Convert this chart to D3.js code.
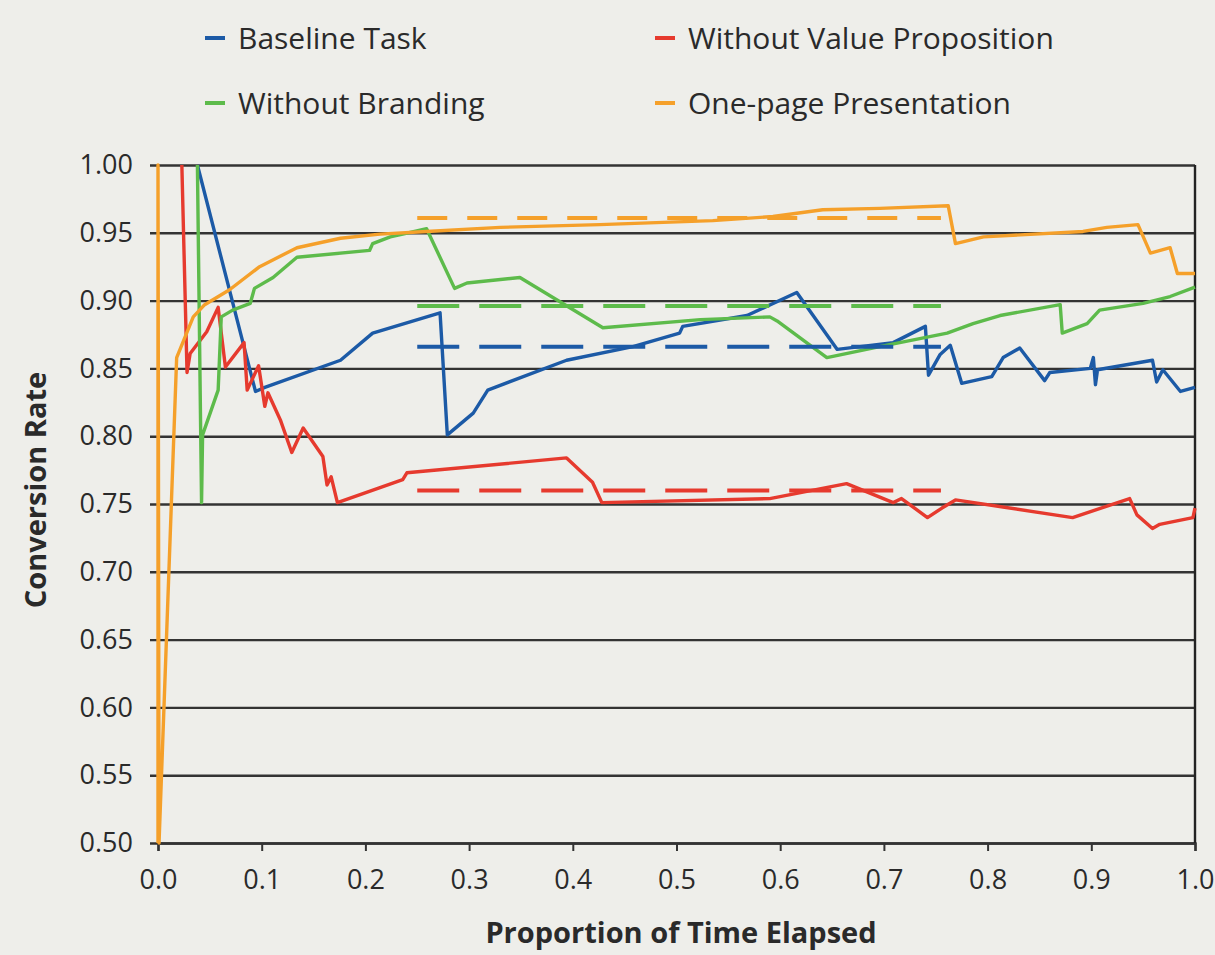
<!DOCTYPE html>
<html><head><meta charset="utf-8">
<script src="https://cdn.jsdelivr.net/npm/d3@7"></script>
<style>body{margin:0;background:#eeeeea;} svg{display:block}</style>
</head><body><svg id="c" width="1215" height="955"></svg>
<script>
// ---- data ----
const seriesNames = ["Baseline Task", "Without Value Proposition", "Without Branding", "One-page Presentation"];
const seriesColors = ["#1c5aa6", "#e63a2e", "#5dbb4b", "#f5a02a"];

const baselineTask = [[0.038,1.0],[0.094,0.833],[0.103,0.836],[0.176,0.856],[0.207,0.876],[0.272,0.891],[0.279,0.801],[0.304,0.817],[0.318,0.834],[0.394,0.856],[0.458,0.866],[0.503,0.876],[0.506,0.881],[0.568,0.889],[0.616,0.906],[0.655,0.864],[0.709,0.869],[0.740,0.881],[0.743,0.845],[0.754,0.860],[0.764,0.867],[0.775,0.839],[0.804,0.844],[0.815,0.858],[0.831,0.865],[0.855,0.841],[0.860,0.847],[0.899,0.850],[0.902,0.858],[0.904,0.838],[0.906,0.849],[0.959,0.856],[0.963,0.840],[0.969,0.849],[0.986,0.833],[1.0,0.836]];

const withoutValueProp = [[0.023,1.0],[0.028,0.847],[0.031,0.861],[0.047,0.877],[0.058,0.895],[0.065,0.851],[0.083,0.869],[0.086,0.834],[0.097,0.852],[0.103,0.822],[0.106,0.832],[0.118,0.812],[0.129,0.788],[0.140,0.806],[0.159,0.785],[0.163,0.764],[0.167,0.770],[0.173,0.751],[0.236,0.768],[0.240,0.773],[0.394,0.784],[0.419,0.766],[0.428,0.751],[0.590,0.754],[0.664,0.765],[0.709,0.751],[0.717,0.754],[0.742,0.740],[0.756,0.747],[0.769,0.753],[0.882,0.740],[0.937,0.754],[0.944,0.742],[0.959,0.732],[0.966,0.735],[0.998,0.740],[1.0,0.747]];

const withoutBranding = [[0.038,1.0],[0.042,0.751],[0.043,0.801],[0.058,0.834],[0.061,0.888],[0.072,0.893],[0.089,0.898],[0.093,0.909],[0.111,0.917],[0.134,0.932],[0.204,0.937],[0.207,0.942],[0.224,0.947],[0.259,0.953],[0.286,0.909],[0.298,0.913],[0.349,0.917],[0.429,0.880],[0.523,0.886],[0.590,0.888],[0.597,0.885],[0.645,0.858],[0.696,0.866],[0.761,0.876],[0.786,0.883],[0.812,0.889],[0.870,0.897],[0.872,0.876],[0.896,0.883],[0.908,0.893],[0.950,0.898],[0.976,0.903],[1.0,0.910]];

const onePage = [[0.0,0.5],[0.0,1.0],[0.001,0.5],[0.018,0.858],[0.034,0.888],[0.045,0.897],[0.069,0.908],[0.098,0.925],[0.134,0.939],[0.176,0.946],[0.214,0.949],[0.259,0.951],[0.330,0.954],[0.426,0.956],[0.535,0.959],[0.593,0.962],[0.641,0.967],[0.696,0.968],[0.762,0.970],[0.769,0.942],[0.796,0.947],[0.892,0.951],[0.915,0.954],[0.945,0.956],[0.957,0.935],[0.976,0.939],[0.983,0.920],[1.0,0.920]];

const seriesData = [baselineTask, withoutValueProp, withoutBranding, onePage];
const meanValues = [0.866, 0.760, 0.896, 0.961];
const meanRange = [0.25, 0.755];

const xTicks = [0,0.1,0.2,0.3,0.4,0.5,0.6,0.7,0.8,0.9,1.0];
const yTicks = [0.50,0.55,0.60,0.65,0.70,0.75,0.80,0.85,0.90,0.95,1.00];

// ---- layout ----
const svg = d3.select("#c");
const L = 158, R = 1195, T = 165, B = 843;
const x = d3.scaleLinear().domain([0,1]).range([L,R]);
const y = d3.scaleLinear().domain([0.5,1]).range([B,T]);
const font = "'Open Sans', 'Noto Sans', sans-serif";
const ink = "#2a2a2a";

svg.append("rect").attr("width",1215).attr("height",955).attr("fill","#eeeeea");

// gridlines with left ticks
const yAxis = d3.axisLeft(y).tickValues(yTicks).tickFormat(d3.format(".2f")).tickSize(-(R-L)).tickPadding(25);
const gy = svg.append("g").attr("transform",`translate(${L},0)`).call(yAxis);
gy.select(".domain").remove();
gy.selectAll(".tick line").attr("stroke","#333").attr("stroke-width",2.4).attr("x1",-8);
gy.selectAll(".tick text").attr("font-family",font).attr("font-size",27).attr("fill",ink);

// x axis
const xAxis = d3.axisBottom(x).tickValues(xTicks).tickFormat(d3.format(".1f")).tickSize(8).tickPadding(19);
const gx = svg.append("g").attr("transform",`translate(0,${B})`).call(xAxis);
gx.select(".domain").attr("stroke","#333").attr("stroke-width",2.4);
gx.selectAll(".tick line").attr("stroke","#333").attr("stroke-width",2);
gx.selectAll(".tick text").attr("font-family",font).attr("font-size",27).attr("fill",ink);

// frame left & right
svg.append("line").attr("x1",L).attr("x2",L).attr("y1",T).attr("y2",B).attr("stroke","#555").attr("stroke-width",2);
svg.append("line").attr("x1",R).attr("x2",R).attr("y1",T).attr("y2",B).attr("stroke","#222").attr("stroke-width",2.4);

// series lines
const line = d3.line().x(d=>x(d[0])).y(d=>y(d[1]));
seriesData.forEach((s,i)=>{
  svg.append("path").datum(s).attr("d",line).attr("fill","none")
    .attr("stroke",seriesColors[i]).attr("stroke-width",3.4).attr("stroke-linejoin","round");
});

// mean dashed lines
meanValues.forEach((m,i)=>{
  svg.append("line").attr("x1",x(meanRange[0])).attr("x2",x(meanRange[1]))
    .attr("y1",y(m)).attr("y2",y(m)).attr("stroke",seriesColors[i]).attr("stroke-width",4)
    .attr("stroke-dasharray", i===3 ? "30,20" : "42,20");
});

// legend
const legPos = [[205,38],[655,38],[205,103],[655,103]];
seriesNames.forEach((n,i)=>{
  const [lx,ly] = legPos[i];
  svg.append("line").attr("x1",lx).attr("x2",lx+20).attr("y1",ly).attr("y2",ly)
    .attr("stroke",seriesColors[i]).attr("stroke-width",4);
  svg.append("text").attr("x",lx+33).attr("y",ly+11).text(n)
    .attr("font-family",font).attr("font-size",30).attr("fill",ink);
});

// axis titles
svg.append("text").attr("x",681).attr("y",943).attr("text-anchor","middle")
  .attr("font-family",font).attr("font-weight","bold").attr("font-size",29).attr("fill",ink)
  .text("Proportion of Time Elapsed");
svg.append("text").attr("transform",`translate(46,490) rotate(-90)`).attr("text-anchor","middle")
  .attr("font-family",font).attr("font-weight","bold").attr("font-size",29).attr("fill",ink)
  .text("Conversion Rate");
</script></body></html>
